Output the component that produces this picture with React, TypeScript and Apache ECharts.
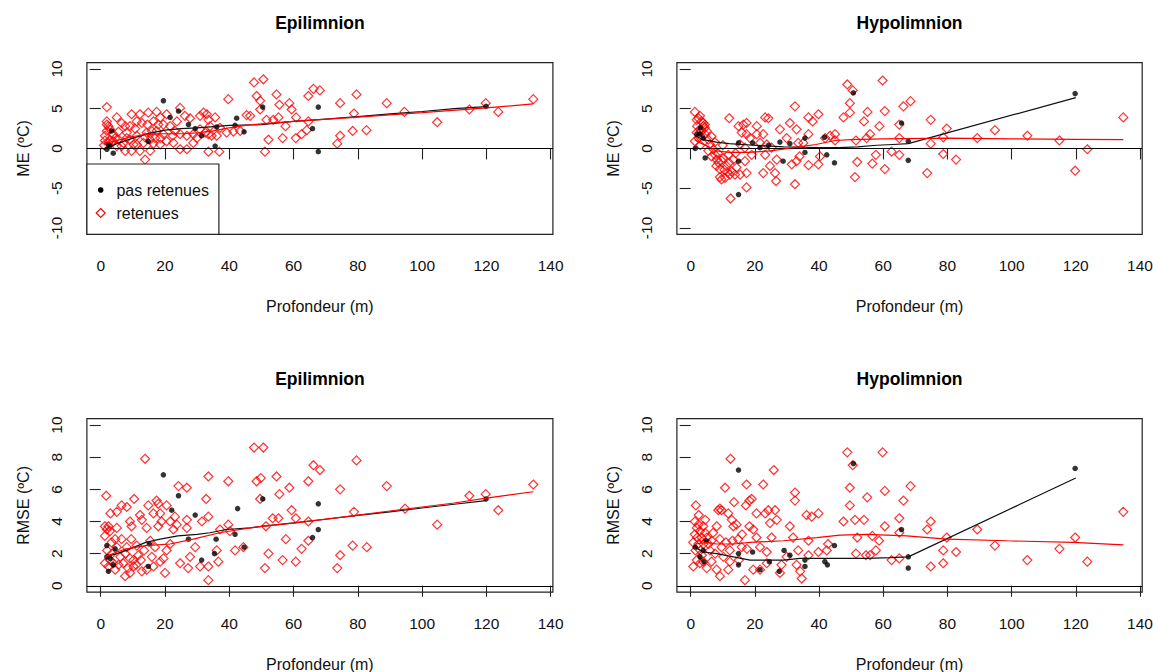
import React, { useEffect, useRef } from "react";
import * as echarts from "echarts";

// ---------- tick labels ----------
const X_TICKS = [0, 20, 40, 60, 80, 100, 120, 140];
const ME_TICKS = [-10, -5, 0, 5, 10];
const RMSE_TICKS = [0, 2, 4, 6, 8, 10];

// ---------- Epilimnion ME ----------
const epiME_ret: number[][] = [
  [1.9,5.2],[1.9,3.4],[2.4,2.8],[1.9,2.2],[1.3,1.6],[1.0,0.4],[2.9,1.0],[4.5,1.3],[5.0,3.9],[6.5,3.2],[5.5,2.1],[3.9,1.8],[7.1,0.7],[8.1,1.3],[9.1,2.8],[9.6,4.3],[10.7,2.5],[12.2,4.3],[12.8,3.2],[11.2,1.6],[13.8,1.4],[14.8,4.5],[14.5,3.0],[15.9,2.2],[17.4,4.6],[18.5,3.9],[17.9,3.0],[16.9,1.3],[16.4,0.6],[18.5,1.3],[19.5,1.8],[20.5,4.3],[21.6,2.8],[23.1,2.2],[23.7,3.4],[24.7,5.1],[26.2,4.1],[27.8,3.8],[26.8,1.6],[22.6,0.7],[20.5,0.9],[24.7,-0.1],[26.8,-0.1],[29.9,1.3],[28.8,0.7],[30.9,4.1],[32.0,4.5],[33.0,4.3],[33.5,3.6],[34.0,2.8],[33.5,1.8],[34.5,1.6],[36.1,1.6],[33.5,-0.4],[36.9,-0.4],[37.1,2.6],[39.2,2.0],[39.7,6.2],[41.3,2.1],[43.4,2.2],[45.4,4.2],[13.8,-1.4],[9.6,-0.3],[7.6,-0.3],[12.2,-0.3],[18.5,0.5],[6.5,0.3],[11.2,0.5],[15.4,-0.3],[1.9,3.0],[2.9,2.4],[1.3,1.0],[2.4,0.7],[3.9,0.9],[5.0,0.3],[5.5,1.1],[8.1,2.0],[9.1,1.1],[10.2,0.5],[13.3,0.7],[14.3,2.0],[15.4,1.1],[17.4,2.2],[11.2,3.4],[7.6,2.8],[16.4,3.4],[19.5,3.0],[24.7,1.8],[22.4,1.6],[28.8,1.8],[30.9,2.4],[35.6,3.9],[32.5,2.0],
  [47.7,8.3],[50.6,8.7],[48.5,6.6],[49.6,6.0],[49.6,4.9],[46.5,4.1],[51.6,3.6],[53.7,3.6],[55.3,3.9],[52.2,1.1],[51.1,-0.4],[54.7,6.8],[55.6,5.5],[58.7,5.7],[59.4,4.9],[60.8,3.9],[57.5,2.8],[56.6,1.3],[60.7,1.3],[62.5,1.8],[64.1,2.3],[64.6,3.4],[64.6,6.6],[66.2,7.5],[68.2,7.3],[74.5,5.7],[74.5,1.6],[73.6,0.6],[78.8,4.4],[79.6,6.8],[78.4,2.2],[82.7,2.3],[89.0,5.7],[94.5,4.6],[104.7,3.3],[114.7,4.9],[119.8,5.7],[123.7,4.6],[134.6,6.2]
];
const epiME_pas: number[][] = [
  [1.9,-0.1],[3.9,-0.6],[2.9,0.3],[3.4,2.2],[2.4,0.5],[14.8,0.9],[19.5,6.0],[21.6,3.9],[24.2,4.7],[27.3,3.0],[29.4,2.5],[31.4,1.6],[35.6,0.3],[36.1,2.7],[41.8,2.9],[42.3,3.8],[44.6,2.1],[50.4,5.2],[67.7,5.2],[65.9,2.5],[67.7,-0.4],[119.9,5.3]
];
const epiME_lowPas: number[][] = [
  [1.5,0.0],[5,0.6],[10,1.3],[15,1.9],[20,2.3],[25,2.5],[30,2.6],[40,2.9],[50,3.0],[60,3.4],[70,3.7],[80,4.0],[90,4.35],[100,4.65],[110,5.0],[120,5.25]
];
const epiME_lowRet: number[][] = [
  [1.0,0.6],[5,1.0],[10,1.5],[15,1.8],[20,1.85],[25,1.85],[30,1.95],[35,2.2],[40,2.6],[45,2.9],[50,3.1],[60,3.4],[80,3.95],[100,4.5],[120,5.1],[134.6,5.6]
];

// ---------- Hypolimnion ME ----------
const hypoME_ret: number[][] = [
  [1.3,4.6],[1.9,3.6],[2.9,4.1],[3.9,3.2],[4.4,3.0],[4.4,2.6],[3.4,2.2],[1.9,2.0],[1.3,0.9],[2.4,1.3],[2.9,2.4],[5.0,2.2],[5.5,1.1],[6.0,0.5],[7.1,-0.1],[7.6,-0.8],[8.1,-1.4],[8.6,-1.8],[9.1,-2.6],[9.6,-3.9],[9.1,-3.6],[10.7,-3.7],[12.2,-3.3],[12.8,-2.9],[11.2,-2.2],[10.2,-1.2],[11.7,-0.8],[13.3,-1.4],[14.3,-2.4],[13.8,-3.3],[15.4,-3.3],[12.4,-6.3],[12.0,3.8],[14.9,2.8],[16.4,3.0],[17.4,3.2],[15.9,2.0],[17.4,1.8],[18.5,1.3],[15.4,0.5],[16.9,0.1],[16.9,-1.6],[17.4,-3.1],[17.4,-4.9],[19.0,-0.8],[20.6,2.8],[20.6,1.8],[21.6,0.7],[22.6,1.8],[23.2,3.9],[24.2,3.8],[23.7,0.5],[23.2,-0.8],[22.6,-3.1],[24.7,-2.2],[26.3,-3.1],[26.6,-4.1],[26.8,-1.4],[25.2,0.1],[27.8,2.4],[29.9,1.3],[30.9,3.2],[32.5,5.3],[33.0,2.4],[31.5,-2.0],[32.5,-4.5],[33.0,-1.6],[33.9,-1.0],[33.5,0.7],[35.1,0.7],[36.7,1.8],[36.7,3.9],[38.0,3.4],[39.8,4.3],[36.7,-2.1],[39.8,-2.0],[40.3,-1.0],[41.9,1.3],[43.4,1.6],[45.0,1.8],[45.0,1.0],[47.6,3.9],
  [2.4,3.8],[3.4,3.4],[4.0,2.8],[2.0,2.8],[3.0,1.6],[4.5,1.8],[6.5,1.5],[7.5,0.8],[5.5,-0.3],[8.5,-0.6],[9.5,-1.5],[10.5,-2.7],[11.5,-3.0],[8.0,-2.2],[6.5,-1.0],[3.0,0.4],[12.0,-1.8],[14.0,-0.6],[10.0,0.4],
  [48.8,8.05],[50.5,7.3],[49.6,5.7],[49.6,4.5],[54.0,3.4],[55.1,4.6],[59.8,8.55],[60.5,4.7],[66.3,5.3],[68.5,5.95],[58.8,2.8],[55.9,1.8],[54.8,1.3],[51.5,1.0],[65.0,3.0],[65.0,1.3],[74.8,3.6],[74.8,0.6],[79.8,2.5],[78.7,1.4],[78.7,-0.7],[82.7,-1.4],[73.7,-3.1],[62.6,-0.4],[65.0,-0.8],[57.7,-0.8],[56.6,-1.9],[51.9,-1.7],[51.2,-3.6],[60.5,-2.6],[89.3,1.3],[94.8,2.3],[104.9,1.6],[114.9,1.0],[119.8,-2.8],[123.6,-0.1],[134.8,3.9]
];
const hypoME_pas: number[][] = [
  [1.4,0.0],[2.9,1.8],[3.9,1.3],[4.5,-1.2],[1.9,1.8],[3.0,2.6],[14.9,0.7],[14.9,-1.6],[14.9,-5.8],[19.3,0.7],[21.6,0.1],[24.2,0.4],[27.8,0.8],[28.8,-1.6],[30.9,0.6],[35.6,1.3],[35.6,-0.5],[41.7,1.4],[42.4,-0.8],[44.8,-1.8],[50.7,7.0],[65.7,3.2],[67.8,0.9],[67.8,-1.5],[119.8,6.9]
];
const hypoME_lowPas: number[][] = [
  [1.4,1.6],[4,1.1],[8,0.8],[12,0.6],[16,0.5],[22,0.35],[29,0.2],[35,0.15],[40,0.1],[46,0.1],[52,0.2],[58,0.4],[63,0.5],[67.8,0.6],[120,6.4]
];
const hypoME_lowRet: number[][] = [
  [1.3,1.1],[3,0.7],[5,0.3],[8,-0.3],[12,-0.5],[18,-0.5],[25,-0.3],[32,0.1],[39,0.5],[45,1.0],[50,1.1],[60,1.2],[80,1.3],[100,1.2],[120,1.15],[134.8,1.1]
];

// ---------- Epilimnion RMSE ----------
const epiRMSE_ret: number[][] = [
  [1.7,5.6],[1.3,3.7],[2.4,3.7],[1.9,3.5],[2.9,3.4],[1.3,3.1],[3.4,2.7],[4.5,2.9],[5.0,3.6],[1.3,1.4],[2.4,1.2],[2.9,1.6],[3.9,1.4],[5.0,4.6],[6.5,5.0],[8.1,4.9],[10.4,5.4],[9.1,4.0],[9.6,3.7],[6.5,2.9],[8.1,2.4],[7.6,2.0],[6.1,1.8],[7.6,0.6],[9.1,0.8],[10.2,1.2],[9.1,1.7],[10.2,1.6],[11.7,1.9],[12.8,0.9],[11.2,2.5],[12.2,4.4],[12.8,4.1],[13.8,7.9],[14.8,5.0],[14.3,3.6],[15.4,2.8],[16.9,2.4],[15.9,1.8],[16.4,1.2],[14.3,1.0],[17.4,5.3],[17.9,5.1],[16.4,4.5],[18.5,4.5],[17.9,3.7],[18.9,4.0],[20.5,5.0],[21.6,4.0],[23.1,4.3],[23.7,3.8],[22.6,3.5],[21.6,2.6],[20.5,2.2],[18.5,1.5],[20.0,0.8],[19.5,1.7],[24.2,6.2],[26.8,6.1],[26.8,4.1],[26.8,3.6],[24.7,1.4],[27.2,1.1],[27.8,1.8],[29.4,2.4],[31.5,4.0],[33.5,4.3],[32.8,5.4],[33.5,6.8],[30.9,1.2],[33.5,1.2],[33.5,0.35],[36.6,1.5],[36.1,2.2],[37.1,3.5],[39.7,6.5],[39.7,3.8],[40.2,3.4],[41.8,2.2],[44.4,2.4],
  [2.0,2.2],[3.5,2.0],[4.5,1.0],[5.5,1.3],[5.0,2.4],[7.0,1.4],[8.5,1.1],[11.0,1.3],[12.5,1.6],[13.5,2.2],[9.5,2.9],[3.0,4.5],
  [47.7,8.6],[50.6,8.6],[48.5,6.5],[49.8,6.7],[49.6,5.4],[54.7,6.8],[55.6,5.7],[58.7,6.1],[59.4,4.7],[53.5,4.2],[55.3,4.2],[51.4,3.7],[60.7,4.2],[64.6,4.0],[64.6,6.5],[66.2,7.5],[68.2,7.2],[57.6,2.9],[52.2,2.0],[51.1,1.1],[56.6,1.6],[60.7,1.5],[62.5,2.3],[64.6,2.8],[74.5,6.0],[73.6,1.1],[74.5,1.9],[78.8,4.6],[79.6,7.8],[78.4,2.5],[82.8,2.4],[89.0,6.2],[94.7,4.8],[104.7,3.8],[114.7,5.6],[119.8,5.7],[123.7,4.7],[134.6,6.3]
];
const epiRMSE_pas: number[][] = [
  [1.9,1.8],[2.4,0.9],[2.9,1.7],[3.9,1.3],[1.9,2.5],[4.5,2.3],[15.1,2.6],[14.8,1.2],[19.5,6.9],[24.2,5.6],[22.1,4.7],[27.3,2.9],[29.4,4.4],[31.4,1.6],[35.9,2.9],[35.4,2.0],[41.8,3.2],[42.6,4.8],[44.6,2.4],[50.4,5.4],[67.7,5.1],[67.7,3.5],[65.9,3.0],[119.9,5.4]
];
const epiRMSE_lowPas: number[][] = [
  [1.5,1.8],[5,2.0],[8,2.2],[14,2.7],[18.5,2.9],[24,3.1],[30,3.2],[34,3.3],[39,3.5],[46.5,3.6],[50,3.7],[60,3.91],[70,4.14],[80,4.38],[90,4.6],[100,4.84],[110,5.07],[119.9,5.3]
];
const epiRMSE_lowRet: number[][] = [
  [1.3,1.8],[5,2.1],[8,2.3],[14,2.5],[21.6,2.6],[28.8,2.9],[37,3.3],[46.5,3.6],[50,3.7],[60,3.9],[70,4.15],[80,4.4],[90,4.65],[100,4.9],[110,5.15],[120,5.45],[134.6,5.85]
];

// ---------- Hypolimnion RMSE ----------
const hypoRMSE_ret: number[][] = [
  [1.6,5.0],[1.3,4.0],[1.9,3.6],[1.3,3.2],[0.8,2.7],[2.4,3.8],[2.9,3.4],[3.4,3.0],[3.9,3.7],[4.5,4.1],[4.5,3.3],[2.4,2.6],[1.9,1.6],[0.8,1.2],[2.9,1.4],[3.9,1.5],[5.0,1.1],[5.5,2.6],[6.5,2.8],[6.0,2.2],[7.6,2.0],[8.1,3.7],[8.6,4.7],[9.1,4.8],[9.6,4.7],[10.7,6.1],[12.4,7.9],[9.1,2.9],[9.6,2.4],[10.2,1.8],[9.1,0.6],[8.1,1.0],[11.7,1.0],[12.2,1.5],[12.2,2.2],[11.7,4.5],[12.8,4.1],[13.5,5.2],[13.3,3.7],[14.3,3.8],[14.8,2.9],[15.9,2.4],[17.4,6.3],[17.2,5.0],[18.3,5.3],[19.0,5.4],[18.3,3.7],[19.5,3.5],[20.5,3.0],[21.6,2.4],[16.9,0.35],[19.5,1.0],[20.5,4.5],[22.6,6.3],[23.2,4.5],[24.2,4.7],[24.7,3.9],[26.3,4.7],[25.9,7.2],[26.8,4.1],[25.2,3.0],[23.7,2.1],[23.7,1.4],[21.6,1.0],[27.8,0.8],[28.3,1.3],[29.9,1.8],[30.9,3.7],[31.9,3.0],[32.5,5.8],[32.5,5.3],[33.5,2.2],[33.0,1.3],[34.1,0.9],[34.6,0.45],[36.7,2.8],[36.1,4.4],[37.7,4.3],[39.8,4.5],[36.7,1.9],[39.8,2.1],[42.4,2.2],[42.8,2.6],
  [2.0,3.0],[3.0,2.2],[1.5,2.2],[4.0,2.6],[3.5,1.9],[5.0,3.0],[6.5,1.5],[7.0,3.3],[11.0,2.7],[13.0,2.8],[16.0,3.2],[15.0,1.6],[17.5,2.3],[2.5,4.4],
  [48.8,8.3],[59.8,8.3],[50.5,7.5],[49.6,6.1],[49.6,5.0],[55.0,5.5],[60.5,5.9],[68.5,6.2],[66.3,5.3],[47.6,4.0],[51.2,4.1],[54.0,4.1],[60.5,3.7],[65.0,4.2],[74.8,4.0],[73.7,3.5],[65.0,3.3],[51.9,3.0],[56.6,3.1],[58.7,2.8],[51.5,2.0],[54.6,1.9],[55.9,1.9],[57.7,2.2],[62.6,1.6],[65.0,1.7],[79.8,3.0],[78.7,2.2],[82.7,2.1],[78.7,1.4],[74.8,1.2],[89.3,3.5],[94.8,2.5],[104.9,1.6],[114.9,2.3],[119.8,3.0],[123.6,1.5],[134.8,4.6]
];
const hypoRMSE_pas: number[][] = [
  [1.4,2.4],[4.8,2.8],[3.9,2.2],[4.1,1.5],[2.9,1.8],[14.9,7.2],[14.9,2.0],[14.9,1.3],[19.3,2.1],[21.6,1.0],[24.5,1.5],[27.6,0.9],[29.1,2.2],[30.9,1.9],[35.6,1.6],[35.6,1.2],[41.8,1.5],[42.6,1.3],[44.8,2.5],[50.7,7.6],[65.7,3.5],[67.8,1.8],[67.8,1.1],[119.8,7.3]
];
const hypoRMSE_lowPas: number[][] = [
  [1.4,2.4],[3.9,2.1],[8.1,2.0],[13.3,1.8],[18.5,1.6],[23.7,1.6],[28.9,1.6],[34,1.7],[39.3,1.7],[46.5,1.7],[55,1.7],[62,1.75],[67.8,1.8],[120,6.7]
];
const hypoRMSE_lowRet: number[][] = [
  [1.4,2.6],[5,2.7],[8,2.6],[13.3,2.6],[18.5,2.7],[28.9,2.8],[39.3,3.0],[46.5,3.15],[55,3.2],[67.3,3.1],[79.8,2.9],[98.5,2.8],[119.2,2.7],[134.8,2.55]
];

const TITLES = ["Epilimnion", "Hypolimnion", "Epilimnion", "Hypolimnion"];
const YLABELS = ["ME (ºC)", "ME (ºC)", "RMSE (ºC)", "RMSE (ºC)"];
const XLABEL = "Profondeur (m)";
const LEGEND_LABELS = ["pas retenues", "retenues"];

const FONT = "'Liberation Sans', Arial, Helvetica, sans-serif";
const RED = "#ff0000";

const layout = [
  { left: 86.9, top: 62.6, width: 466, height: 171.7, xmin: -4.3, xmax: 140.7, ymin: -10.8, ymax: 10.8, yticks: ME_TICKS },
  { left: 676.9, top: 62.6, width: 465.3, height: 171.7, xmin: -4.3, xmax: 140.7, ymin: -10.8, ymax: 10.8, yticks: ME_TICKS },
  { left: 86.9, top: 418.6, width: 466, height: 173.6, xmin: -4.3, xmax: 140.7, ymin: -0.4, ymax: 10.4, yticks: RMSE_TICKS },
  { left: 676.9, top: 418.6, width: 465.3, height: 173.6, xmin: -4.3, xmax: 140.7, ymin: -0.4, ymax: 10.4, yticks: RMSE_TICKS },
];
const panelData = [
  { ret: epiME_ret, pas: epiME_pas, lowPas: epiME_lowPas, lowRet: epiME_lowRet },
  { ret: hypoME_ret, pas: hypoME_pas, lowPas: hypoME_lowPas, lowRet: hypoME_lowRet },
  { ret: epiRMSE_ret, pas: epiRMSE_pas, lowPas: epiRMSE_lowPas, lowRet: epiRMSE_lowRet },
  { ret: hypoRMSE_ret, pas: hypoRMSE_pas, lowPas: hypoRMSE_lowPas, lowRet: hypoRMSE_lowRet },
];

function buildOption() {
  const grid = layout.map((p) => ({
    left: p.left, top: p.top, width: p.width, height: p.height,
    show: true, borderColor: "#222", borderWidth: 1.2, backgroundColor: "transparent",
    containLabel: false, outerBoundsMode: "none",
  }));
  const xAxis = layout.map((p, i) => ({
    type: "value", gridIndex: i, min: p.xmin, max: p.xmax,
    axisLine: { show: false }, splitLine: { show: false },
    axisTick: { show: true, length: 11, customValues: X_TICKS, lineStyle: { color: "#222", width: 1.1 } },
    axisLabel: { customValues: X_TICKS, margin: 23, fontSize: 15.5, color: "#111", fontFamily: FONT },
  }));
  const yAxis = layout.map((p, i) => ({
    type: "value", gridIndex: i, min: p.ymin, max: p.ymax,
    axisLine: { show: false }, splitLine: { show: false },
    axisTick: { show: true, length: 11, customValues: p.yticks, lineStyle: { color: "#222", width: 1.1 } },
    axisLabel: { customValues: p.yticks, rotate: 90, margin: 22, fontSize: 15.5, color: "#111", fontFamily: FONT },
  }));
  const series: any[] = [];
  panelData.forEach((d, i) => {
    series.push({
      type: "scatter", xAxisIndex: i, yAxisIndex: i, data: d.ret, silent: true,
      symbol: "diamond", symbolSize: 9, z: 2,
      itemStyle: { color: "rgba(255,255,255,0)", borderColor: RED, borderWidth: 1.2 },
    });
    series.push({
      type: "scatter", xAxisIndex: i, yAxisIndex: i, data: d.pas, silent: true,
      symbol: "circle", symbolSize: 5.5, z: 3, itemStyle: { color: "#000" },
    });
    series.push({
      type: "line", xAxisIndex: i, yAxisIndex: i, data: d.lowPas, silent: true,
      showSymbol: false, symbol: "none", z: 4, lineStyle: { color: "#111", width: 1.2 },
    });
    series.push({
      type: "line", xAxisIndex: i, yAxisIndex: i, data: d.lowRet, silent: true,
      showSymbol: false, symbol: "none", z: 5, lineStyle: { color: RED, width: 1.2 },
      markLine: {
        silent: true, symbol: ["none", "none"], label: { show: false },
        lineStyle: { color: "#000", width: 1.2, type: "solid" },
        data: [{ yAxis: 0 }],
      },
    });
  });

  const elements: any[] = [];
  layout.forEach((p, i) => {
    const cx = p.left + p.width / 2;
    const cy = p.top + p.height / 2;
    elements.push({
      type: "text", x: cx, y: p.top - 39.5,
      style: { text: TITLES[i], fontSize: 17.5, fontWeight: "bold", fontFamily: FONT, fill: "#000", align: "center", verticalAlign: "middle" },
    });
    elements.push({
      type: "text", x: cx, y: p.top + p.height + 72,
      style: { text: XLABEL, fontSize: 16, fontFamily: FONT, fill: "#111", align: "center", verticalAlign: "middle" },
    });
    elements.push({
      type: "text", x: p.left - 63, y: cy, rotation: Math.PI / 2,
      style: { text: YLABELS[i], fontSize: 16, fontFamily: FONT, fill: "#111", align: "center", verticalAlign: "middle" },
    });
  });
  // legend (panel 1, bottom-left)
  const L = layout[0];
  const lx = L.left, lbottom = L.top + L.height;
  elements.push({
    type: "rect", z: 100, shape: { x: lx, y: 164, width: 132, height: lbottom - 164 },
    style: { fill: "#fff", stroke: "#222", lineWidth: 1.2 },
  });
  elements.push({ type: "circle", z: 101, shape: { cx: lx + 13.8, cy: 190, r: 2.8 }, style: { fill: "#000" } });
  elements.push({
    type: "polygon", z: 101,
    shape: { points: [[lx + 13.8, 208.5], [lx + 18.3, 213], [lx + 13.8, 217.5], [lx + 9.3, 213]] },
    style: { fill: "none", stroke: RED, lineWidth: 1.2 },
  });
  elements.push({
    type: "text", z: 101, x: lx + 29.5, y: 190,
    style: { text: LEGEND_LABELS[0], fontSize: 16, fontFamily: FONT, fill: "#111", align: "left", verticalAlign: "middle" },
  });
  elements.push({
    type: "text", z: 101, x: lx + 29.5, y: 213,
    style: { text: LEGEND_LABELS[1], fontSize: 16, fontFamily: FONT, fill: "#111", align: "left", verticalAlign: "middle" },
  });

  return {
    animation: false,
    backgroundColor: "#fff",
    textStyle: { fontFamily: FONT },
    grid, xAxis, yAxis, series,
    graphic: { elements },
  };
}

export default function App() {
  const ref = useRef<HTMLDivElement>(null);
  useEffect(() => {
    if (!ref.current) return;
    const chart = echarts.init(ref.current, null, { renderer: "svg" });
    chart.setOption(buildOption() as any);
    return () => chart.dispose();
  }, []);
  return (
    <div
      ref={ref}
      style={{ position: "absolute", left: 0, top: 0, width: 1153, height: 672, background: "#fff" }}
    />
  );
}
